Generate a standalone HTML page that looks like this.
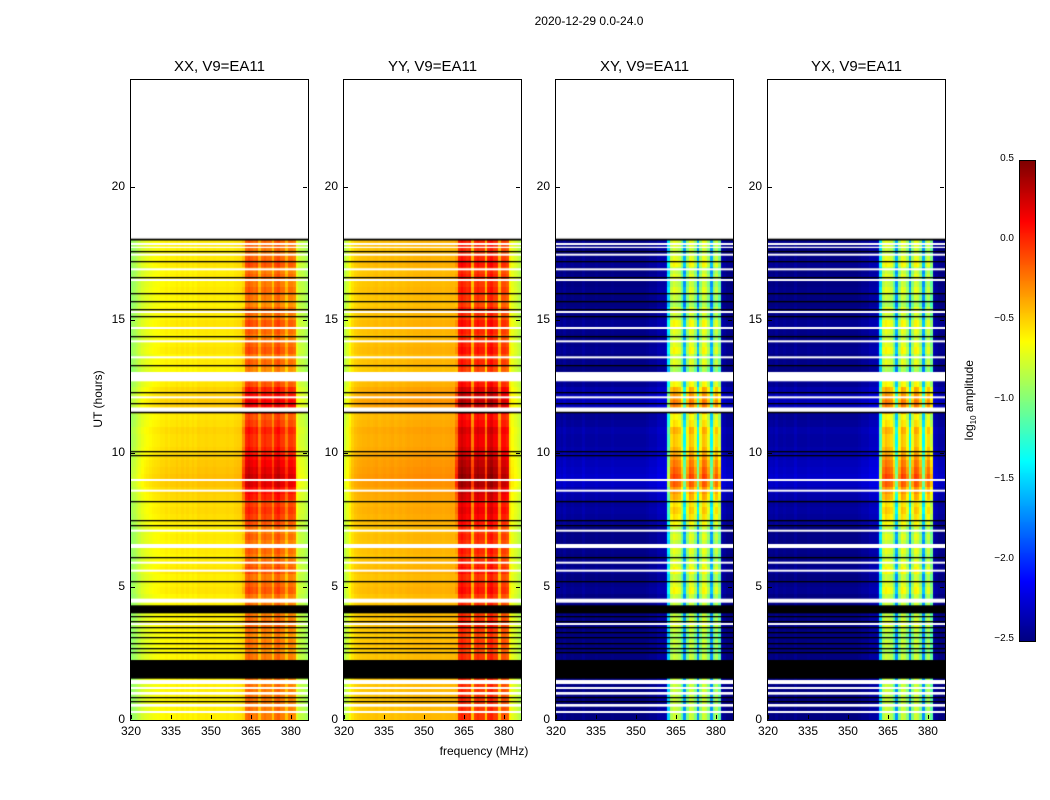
<!DOCTYPE html>
<html><head><meta charset="utf-8">
<style>
body{margin:0;background:#fff;font-family:"Liberation Sans",sans-serif;}
#wrap{position:relative;width:1050px;height:800px;overflow:hidden;}
.t{position:absolute;white-space:nowrap;color:#000;}
canvas{position:absolute;}
</style></head>
<body>
<div id="wrap">
<div class="t" style="left:489px;top:14px;width:200px;text-align:center;font-size:12px;">2020-12-29 0.0-24.0</div>
<div class="t" style="left:384px;top:744px;width:200px;text-align:center;font-size:12px;">frequency (MHz)</div>
<div class="t" style="left:48px;top:392px;width:100px;text-align:center;font-size:12px;transform:rotate(-90deg);">UT (hours)</div>
<div class="t" style="left:920px;top:392px;width:100px;text-align:center;font-size:12px;transform:rotate(-90deg);">log<sub style="font-size:8px">10</sub> amplitude</div>
<canvas id="cb" width="15" height="480" style="left:1019px;top:160px;border:1px solid #000;"></canvas>
</div>
<script>
// ---- data ----
const freqStart = 320, freqEnd = 386.4, nChan = 67;
const xTicks = [320,335,350,365,380];
const yTicks = [0,5,10,15,20];
const cbTicks = [0.5,0.0,-0.5,-1.0,-1.5,-2.0,-2.5];
const titles = ["XX, V9=EA11","YY, V9=EA11","XY, V9=EA11","YX, V9=EA11"];
const xxProfile = [-0.95,-0.9,-0.85,-0.8,-0.75,-0.72,-0.7,-0.68,-0.66,-0.65,-0.64,-0.62,-0.62,-0.6,-0.62,-0.6,-0.6,-0.58,-0.6,-0.58,-0.6,-0.58,-0.6,-0.58,-0.6,-0.57,-0.58,-0.58,-0.57,-0.58,-0.58,-0.57,-0.58,-0.58,-0.58,-0.58,-0.57,-0.58,-0.58,-0.56,-0.55,-0.54,-0.5,-0.2,-0.15,-0.2,-0.25,-0.2,-0.45,-0.25,-0.2,-0.25,-0.25,-0.45,-0.2,-0.15,-0.25,-0.25,-0.45,-0.25,-0.25,-0.3,-0.7,-0.8,-0.82,-0.85,-0.9];
const yyProfile = [-0.85,-0.75,-0.65,-0.55,-0.5,-0.48,-0.47,-0.46,-0.46,-0.45,-0.46,-0.45,-0.44,-0.46,-0.45,-0.44,-0.45,-0.44,-0.43,-0.45,-0.44,-0.43,-0.44,-0.43,-0.42,-0.43,-0.42,-0.42,-0.42,-0.41,-0.42,-0.41,-0.41,-0.42,-0.42,-0.42,-0.42,-0.43,-0.42,-0.42,-0.41,-0.42,-0.4,0.0,0.05,0.0,-0.05,0.0,-0.45,-0.05,0.0,-0.05,-0.05,-0.45,0.0,0.05,-0.05,-0.05,-0.45,-0.1,-0.1,-0.15,-0.6,-0.7,-0.75,-0.8,-0.85];
const xyProfile = [-2.5,-2.48,-2.5,-2.45,-2.5,-2.5,-2.48,-2.5,-2.5,-2.5,-2.45,-2.5,-2.5,-2.5,-2.5,-2.48,-2.5,-2.5,-2.5,-2.5,-2.5,-2.48,-2.5,-2.5,-2.5,-2.5,-2.5,-2.5,-2.5,-2.5,-2.5,-2.5,-2.5,-2.5,-2.48,-2.45,-2.45,-2.45,-2.4,-2.4,-2.4,-2.35,-1.5,-0.85,-0.75,-0.8,-0.85,-1.1,-1.7,-1.0,-0.75,-0.8,-1.0,-1.7,-1.0,-0.75,-0.8,-1.0,-1.7,-1.0,-0.85,-1.1,-2.4,-2.45,-2.5,-2.5,-2.5];
const yxProfile = [-2.5,-2.48,-2.5,-2.45,-2.5,-2.5,-2.48,-2.5,-2.5,-2.5,-2.45,-2.5,-2.5,-2.5,-2.5,-2.48,-2.5,-2.5,-2.5,-2.5,-2.5,-2.48,-2.5,-2.5,-2.5,-2.5,-2.5,-2.5,-2.5,-2.5,-2.5,-2.5,-2.5,-2.5,-2.48,-2.45,-2.45,-2.45,-2.4,-2.4,-2.4,-2.35,-1.5,-0.85,-0.75,-0.8,-0.85,-1.1,-1.7,-1.0,-0.75,-0.8,-1.0,-1.7,-1.0,-0.75,-0.8,-1.0,-1.7,-1.0,-0.85,-1.1,-2.4,-2.45,-2.5,-2.5,-2.5];
const rowBoost = [0,0,0,0,0,0, 0,0,0,0, -0.05,0,-0.05,0,0.05,0,-0.05,0, 0,0.1,0.05,0,0.1,0.05,0,0.05, 0,0.05,0,0.1,0.15,0.2,0.15,0.25, 0.3,0.4,0.45,0.4,0.35,0.3,0.25,0.2, 0.2,0.25,0.15,0.1,0.25,0.35,0.3,0.25, 0.1,0,-0.05,0.05,0,0.1,0.05,0, 0.05,0.1,0,0.05,-0.05,0,0.05,0, 0.05,0,0.1,0.05,0,0.05];
const boostScale = [1.1,1.0,1.6,1.6];
const whiteBands = [[12.7,13.05],[11.55,11.72],[6.45,6.6],[4.4,4.55],[1.35,1.5],[0.95,1.05],[0.5,0.6],[17.7,17.75]];
const blackBands = [[1.55,2.25],[4.0,4.3],[17.98,18.05],[11.5,11.56]];
const blackLines = [17.6,17.2,16.6,16.0,15.7,15.4,15.15,14.4,13.3,12.3,11.9,10.1,9.95,8.2,7.5,7.3,6.1,5.2,3.9,3.7,3.5,3.3,3.1,2.9,2.7,2.55,0.85,0.7];
const whiteLines = [17.85,17.45,16.9,16.5,15.3,14.7,14.2,13.6,12.1,9.0,8.6,7.1,5.6,5.9,3.6,1.2,0.3];
const profiles = [xxProfile, yyProfile, xyProfile, yxProfile];
const panelX = [131,344,556,768];

// ---- drawing ----
const plotTop=80, plotBottom=720, pw=177, ph=640, tMax=24, cmin=-2.5, cmax=0.5;
function yOf(h){return plotBottom - h/tMax*ph;}
function xOf(f,x0){return x0 + (f-freqStart)/(freqEnd-freqStart)*pw;}
function jet(v){
  let t=(v-cmin)/(cmax-cmin); t=Math.max(0,Math.min(1,t));
  const f=(a)=>Math.max(0,Math.min(1,a));
  const r=f(1.5-Math.abs(4*t-3)), g=f(1.5-Math.abs(4*t-2)), b=f(1.5-Math.abs(4*t-1));
  return `rgb(${Math.round(r*255)},${Math.round(g*255)},${Math.round(b*255)})`;
}
const wrap=document.getElementById('wrap');
function txt(name,s,l,t,style){
  const d=document.createElement('div');d.className='t';
  
  
  d.textContent=s;d.style.cssText=`left:${l}px;top:${t}px;`+style;wrap.appendChild(d);return d;
}
profiles.forEach((prof,p)=>{
  const x0=panelX[p];
  const c=document.createElement('canvas');
  c.width=pw;c.height=ph;c.style.left=x0+'px';c.style.top=plotTop+'px';
  
  
  wrap.appendChild(c);
  const g=c.getContext('2d');
  for(let r=0;r<rowBoost.length;r++){
    const h0=r*0.25,h1=h0+0.25;
    for(let k=0;k<nChan;k++){
      const sig = prof[k] > -1.9 && k>=42 && k<=61;
      const v = prof[k] + rowBoost[r]*boostScale[p]*(sig?1:0.3);
      g.fillStyle=jet(v);
      const xa=xOf(freqStart+k,0), xb=xOf(freqStart+k+1,0);
      const ya=yOf(h1)-plotTop, yb=yOf(h0)-plotTop;
      g.fillRect(Math.floor(xa),Math.floor(ya),Math.ceil(xb)-Math.floor(xa),Math.ceil(yb)-Math.floor(ya));
    }
  }
  g.fillStyle='#fff';
  whiteBands.forEach(b=>{g.fillRect(0,yOf(b[1])-plotTop,pw,yOf(b[0])-yOf(b[1]));});
  whiteLines.forEach(h=>{g.fillRect(0,yOf(h)-plotTop-1,pw,2);});
  g.fillStyle='#000';
  blackBands.forEach(b=>{g.fillRect(0,yOf(b[1])-plotTop,pw,yOf(b[0])-yOf(b[1]));});
  blackLines.forEach(h=>{g.fillRect(0,Math.round(yOf(h)-plotTop),pw,1.3);});
  const fr=document.createElement('div');
  
  
  fr.style.cssText=`position:absolute;left:${x0-1}px;top:${plotTop-1}px;width:${pw}px;height:${ph}px;border:1px solid #000;`;
  wrap.appendChild(fr);
  txt('panel-title',titles[p],x0-20,58,`width:${pw+40}px;text-align:center;font-size:15px;`);
  yTicks.forEach(v=>{
    const y=yOf(v);
    txt('y-tick-label',String(v),x0-40,y-8,'width:34px;text-align:right;font-size:12px;');
    const tk=document.createElement('div');
    
    
    tk.style.cssText=`position:absolute;left:${x0}px;top:${Math.round(y)}px;width:4px;height:1px;background:#000;`;wrap.appendChild(tk);
    const tk2=tk.cloneNode();tk2.style.left=(x0+pw-5)+'px';wrap.appendChild(tk2);
  });
  xTicks.forEach(v=>{
    const x=xOf(v,x0);
    txt('x-tick-label',String(v),x-20,724,'width:40px;text-align:center;font-size:12px;');
    const tk=document.createElement('div');
    
    
    tk.style.cssText=`position:absolute;left:${Math.round(x)}px;top:${plotBottom-5}px;width:1px;height:4px;background:#000;`;wrap.appendChild(tk);
  });
});
const cb=document.getElementById('cb').getContext('2d');
for(let i=0;i<480;i++){cb.fillStyle=jet(cmax-(i/480)*(cmax-cmin));cb.fillRect(0,i,15,1);}
cbTicks.forEach(v=>{
  const y=160+(cmax-v)/(cmax-cmin)*480;
  txt('colorbar-tick-label',(v<0?'\u2212':'')+Math.abs(v).toFixed(1),974,y-7,'width:40px;text-align:right;font-size:10px;');
});
</script>
</body></html>
